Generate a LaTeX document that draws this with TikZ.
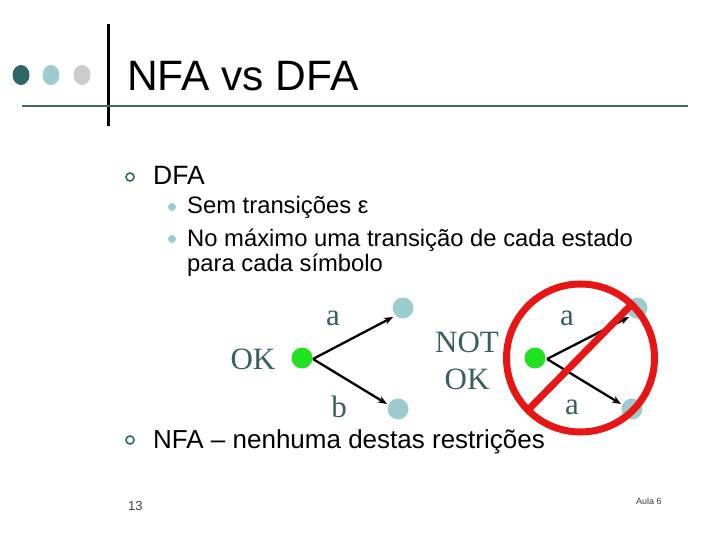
\documentclass[tikz,border=0pt]{standalone}
\usepackage{fontspec}
\setmainfont{Liberation Sans}
\newfontfamily\serifff{Liberation Serif}
\usetikzlibrary{arrows.meta}
\definecolor{dteal}{HTML}{2F6666}
\definecolor{lteal}{HTML}{9CCBD0}
\definecolor{lgray}{HTML}{CCCCCC}
\definecolor{rulec}{HTML}{4A6363}
\definecolor{slate}{HTML}{3A5E5E}
\definecolor{sgreen}{HTML}{22E022}
\definecolor{sred}{HTML}{E81515}
\tikzset{
  txt/.style={anchor=base west, inner sep=0pt, text=black},
  ser/.style={inner sep=0pt, text=slate, font=\serifff\fontsize{31}{31}\selectfont},
  gdot/.style={circle, fill=sgreen, minimum size=21pt, inner sep=0pt},
  tdot/.style={circle, fill=lteal, minimum size=21pt, inner sep=0pt},
  arr/.style={-{Stealth[length=9pt,width=7pt]}, line width=2.3pt, black},
}
\begin{document}
\begin{tikzpicture}[x=1pt,y=-1pt]
\useasboundingbox (0,0) rectangle (720,540);
% header
\fill[dteal] (21,75) ellipse (8.5 and 10);
\fill[lteal] (51,75) ellipse (8.5 and 10);
\fill[lgray] (82,75) ellipse (8.5 and 10);
\draw[line width=3pt] (108,24) -- (108,126);
\draw[rulec, line width=2pt] (22,106) -- (688,106);
\node[txt] (title) at (127,91) {\fontsize{42.5}{42.5}\selectfont NFA vs DFA};
% bullets
\draw[dteal, line width=1.6pt] (130,177) circle (4);
\node[txt] (dfa) at (153,185) {\fontsize{26.5}{26.5}\selectfont DFA};
\fill[lteal] (172,207) circle (4);
\node[txt] (s1) at (187,214) {\fontsize{23.8}{24}\selectfont Sem transições ε};
\fill[lteal] (172,239) circle (4);
\node[txt] (s2) at (187,246) {\fontsize{23.8}{24}\selectfont No máximo uma transição de cada estado};
\node[txt] (s3) at (187,271) {\fontsize{23.8}{24}\selectfont para cada símbolo};
% left diagram
\node[ser] (okl) at (253,359) {OK};
\node[gdot] (g1) at (302,358) {};
\node[tdot] (t1) at (403,308) {};
\node[tdot] (t2) at (398,409) {};
\draw[arr] (g1.center) ++(11,1) -- (393,317);
\draw[arr] (g1.center) ++(11,1) -- (387,404);
\node[ser] (la) at (333,318) {a};
\node[ser] (lb) at (339,407) {b};
% right diagram
\node[ser] (not) at (467,342) {NOT};
\node[ser] (okr) at (467,379) {OK};
\node[gdot] (g2) at (535,358) {};
\node[tdot] (t3) at (637,308) {};
\node[tdot] (t4) at (632,409) {};
\draw[arr] (g2.center) ++(12,1) -- (629,317);
\draw[arr] (g2.center) ++(12,1) -- (621,404);
\node[ser] (ra) at (567,318) {a};
\node[ser] (rb) at (572,407) {a};
\draw[sred, line width=7pt] (580.5,358) circle (74);
\draw[sred, line width=7pt] (530,408) -- (633,303);
% NFA bullet
\draw[dteal, line width=1.6pt] (130,440) circle (4);
\node[txt] (nfa) at (153,448) {\fontsize{26}{26}\selectfont NFA – nenhuma destas restrições};
% footer
\node[txt, text=black!75] (num) at (128,510) {\fontsize{13}{13}\selectfont 13};
\node[txt, text=black!75] (aula) at (636,504) {\fontsize{9}{9}\selectfont Aula 6};
\end{tikzpicture}
\end{document}
